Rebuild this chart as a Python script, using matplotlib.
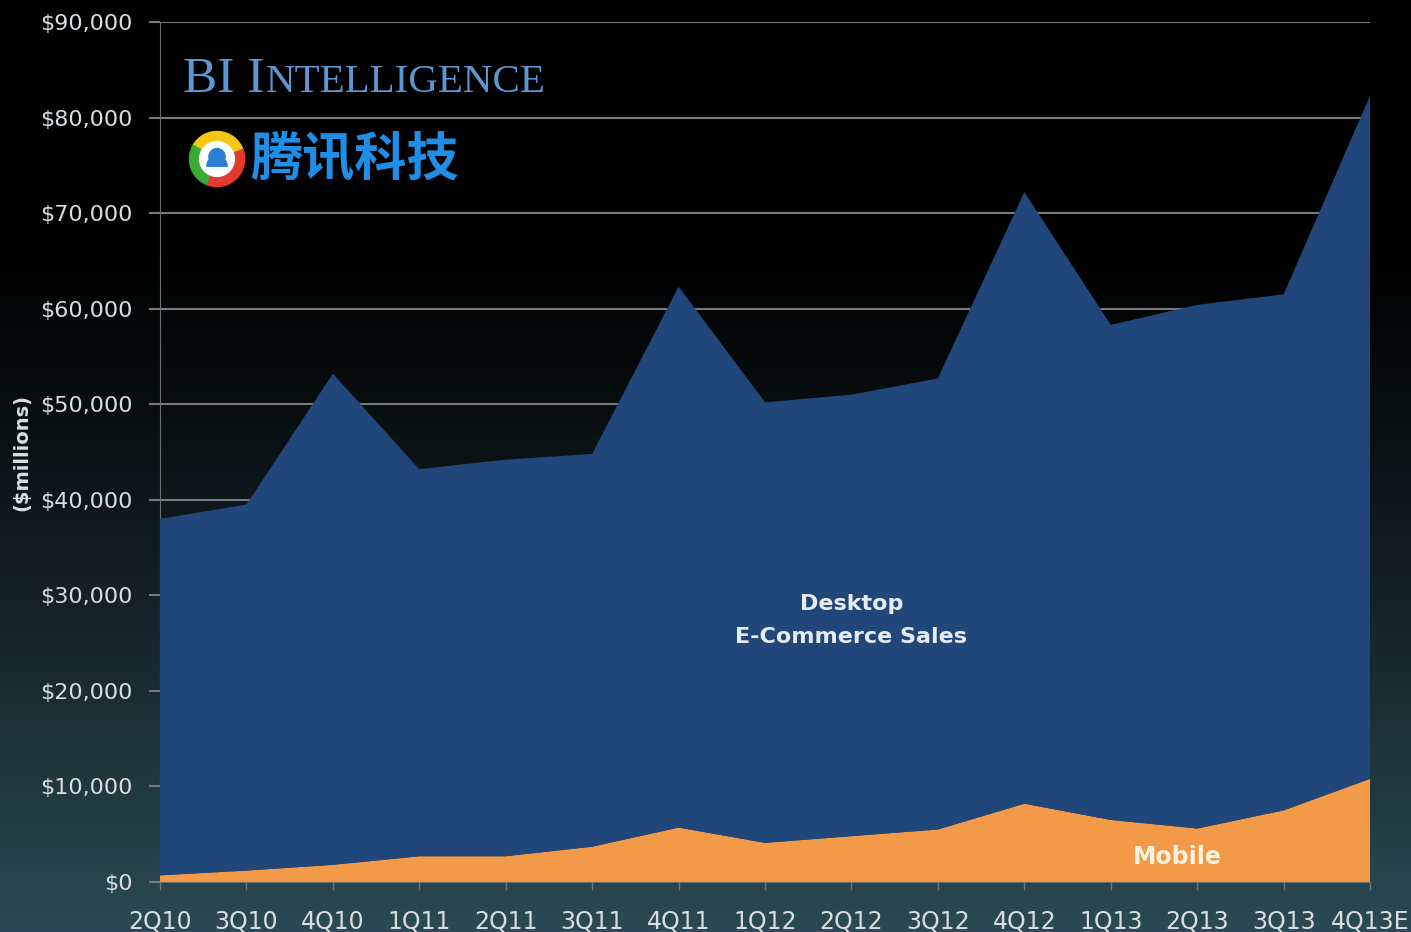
import matplotlib
matplotlib.use("Agg")
from matplotlib import pyplot as plt
from matplotlib.patches import Wedge, Circle
import numpy as np

# quarterly US e-commerce sales, $ millions
quarters = ["2Q10", "3Q10", "4Q10", "1Q11", "2Q11", "3Q11", "4Q11", "1Q12",
            "2Q12", "3Q12", "4Q12", "1Q13", "2Q13", "3Q13", "4Q13E"]
mobile = [700, 1200, 1800, 2700, 2700, 3700, 5700, 4100,
          4800, 5500, 8200, 6500, 5600, 7500, 10800]
total = [38000, 39500, 53200, 43200, 44200, 44800, 62300, 50200,
         51000, 52700, 72200, 58300, 60400, 61500, 82300]
desktop = [t - m for t, m in zip(total, mobile)]
yticks = list(range(0, 90001, 10000))

blue = "#21467a"
orange = "#f39a48"
txt = "#d9dee2"

fig = plt.figure(figsize=(14.11, 9.32), dpi=100)

# background gradient black -> dark teal
bg = fig.add_axes([0, 0, 1, 1], zorder=-10)
grad = np.linspace(0, 1, 256).reshape(-1, 1)
top = np.array([0.0, 0.0, 0.0])
bot = np.array([0.17, 0.29, 0.33])
w = np.clip((grad - 0.25) / 0.75, 0, 1) ** 1.2
img = top + (bot - top) * w[..., None]
bg.imshow(img, aspect="auto", extent=[0, 1, 0, 1], origin="upper")
bg.axis("off")

ax = fig.add_axes([0.1134, 0.0536, 0.971 - 0.1134, 0.9764 - 0.0536])
ax.patch.set_alpha(0)
x = np.arange(len(quarters))
ax.stackplot(x, mobile, desktop, colors=[orange, blue], zorder=3)
ax.set_xlim(0, len(quarters) - 1)
ax.set_ylim(0, 90000)
ax.set_yticks(yticks)
ax.set_yticklabels(["${:,}".format(v) for v in yticks], fontsize=16, color=txt)
ax.set_xticks(x)
ax.set_xticklabels(quarters, fontsize=17, color=txt)
ax.grid(axis="y", color="#7a7a7a", linewidth=1.5, zorder=1)
ax.set_axisbelow(True)
for s in ["top", "right"]:
    ax.spines[s].set_visible(False)
ax.spines["left"].set_color("#6a6e70")
ax.spines["bottom"].set_color("#6a6e70")
ax.spines["bottom"].set_zorder(4)
ax.tick_params(axis="y", colors="#7a7a7a", length=8, width=1.5, labelcolor=txt, pad=12)
ax.tick_params(axis="x", colors="#6a7a80", length=6, width=1, labelcolor=txt, pad=14)
ax.set_ylabel("($millions)", fontsize=14, color=txt, fontweight="bold")
ax.yaxis.set_label_coords(-0.106, 0.5)

ax.text(8, 27400, "Desktop\nE-Commerce Sales", ha="center", va="center",
        fontsize=16, fontweight="bold", color="#e6ecf2", linespacing=1.8, zorder=5)
ax.text(11.77, 2600, "Mobile", ha="center", va="center",
        fontsize=17, fontweight="bold", color="#fff2e0", zorder=5)

# BI Intelligence header (small caps)
serif = "Liberation Serif"
hdr = "#5d97d2"
t1 = fig.text(183 / 1411, 1 - 92 / 932, "BI I", fontsize=37, family=serif,
              color=hdr, va="baseline")
fig.canvas.draw()
r = fig.canvas.get_renderer()
bb = t1.get_window_extent(r)
fig.text(bb.x1 / fig.bbox.width + 0.001, 1 - 92 / 932, "NTELLIGENCE", fontsize=29.5,
         family=serif, color=hdr, va="baseline")

# Tencent logo
lax = fig.add_axes([188 / 1411, 1 - 188 / 932, 58 / 1411, 58 / 932])
lax.set_xlim(-1, 1)
lax.set_ylim(-1, 1)
lax.set_aspect("equal")
lax.axis("off")
for a0, a1, c in [(20, 150, "#f5c518"), (150, 250, "#3aa935"),
                  (250, 360, "#e23b2e"), (0, 20, "#e23b2e")]:
    lax.add_patch(Wedge((0, 0), 0.95, a0, a1, width=0.35, color=c))
lax.add_patch(Circle((0, 0), 0.6, color="white"))
lax.add_patch(Circle((0, 0.08), 0.28, color="#2a7fd4"))
lax.add_patch(Wedge((0, -0.25), 0.35, 0, 180, color="#2a7fd4"))

fig.text(250 / 1411, 1 - 160 / 932, "腾讯科技", fontsize=37.5, fontweight="bold",
         family=["Noto Sans CJK SC", "DejaVu Sans"], color="#1e8ee6", va="center")

fig.savefig("out.png", dpi=100)
